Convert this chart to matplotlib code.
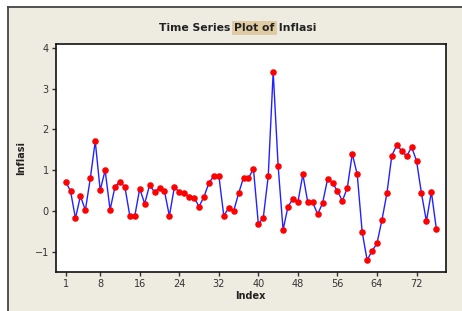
import matplotlib
matplotlib.use("Agg")
import matplotlib.pyplot as plt
from matplotlib.patches import Rectangle
from matplotlib.lines import Line2D

inflasi = [0.72, 0.49, -0.18, 0.37, 0.02, 0.80, 1.71, 0.51, 1.00, 0.03,
           0.60, 0.72, 0.59, -0.12, -0.12, 0.55, 0.18, 0.64, 0.46, 0.57,
           0.49, -0.12, 0.58, 0.47, 0.45, 0.35, 0.33, 0.11, 0.35, 0.69,
           0.86, 0.87, -0.11, 0.07, 0.00, 0.43, 0.82, 0.80, 1.04, -0.32,
           -0.16, 0.86, 3.41, 1.10, -0.46, 0.11, 0.30, 0.22, 0.90, 0.21,
           0.21, -0.08, 0.20, 0.78, 0.69, 0.49, 0.25, 0.57, 1.40, 0.90,
           -0.51, -1.20, -0.98, -0.79, -0.22, 0.43, 1.36, 1.61, 1.48, 1.34,
           1.57, 1.23, 0.43, -0.25, 0.47, -0.43]
index = list(range(1, len(inflasi) + 1))
x_ticks = [1, 8, 16, 24, 32, 40, 48, 56, 64, 72]
y_ticks = [-1, 0, 1, 2, 3, 4]

W, H = 462, 311
fig = plt.figure(figsize=(W / 100, H / 100), dpi=100)
fig.patch.set_facecolor("white")
bg = "#EEEBE1"
# beige panel with dark frame on top/left
fig.patches.append(Rectangle((8 / W, 0), 1 - 8 / W, 1 - 7 / H, transform=fig.transFigure,
                             facecolor=bg, edgecolor="none", zorder=-10))
fig.lines.append(Line2D([8 / W, 1], [1 - 7 / H, 1 - 7 / H], transform=fig.transFigure,
                        color="#444444", lw=1.3, zorder=-5))
fig.lines.append(Line2D([8 / W, 8 / W], [0, 1 - 7 / H], transform=fig.transFigure,
                        color="#444444", lw=1.3, zorder=-5))

ax = fig.add_axes([55.7 / W, 1 - 271.7 / H, (445.7 - 55.7) / W, (271.7 - 43.7) / H])
ax.set_zorder(1)
ax.set_facecolor("white")
ax.plot(index, inflasi, color="#2222FF", lw=1.0, marker="o", markersize=3.7,
        markerfacecolor="#FF0000", markeredgecolor="#FF0000", zorder=3)
ax.set_xlim(-1.0, 77.9)
ax.set_ylim(-1.486, 4.10)
ax.set_xticks(x_ticks)
ax.set_yticks(y_ticks)
ax.tick_params(direction="out", length=3, width=1, labelsize=7, colors="#333333",
               pad=2)
for s in ax.spines.values():
    s.set_linewidth(1.2)
    s.set_color("#111111")
ax.set_xlabel("Index", fontsize=7, fontweight="bold", labelpad=2, color="#222222")
ax.set_ylabel("Inflasi", fontsize=7, fontweight="bold", labelpad=6, color="#222222")

# title with highlighted middle part
fig.canvas.draw()
r = fig.canvas.get_renderer()
parts = [("Time Series ", None), ("Plot of", "#E0CCA2"), (" Inflasi", None)]
ty = 1 - 28 / H
texts = []
for s, hc in parts:
    t = fig.text(0, ty, s, fontsize=7.8, fontweight="bold", va="center", ha="left",
                 color="#222222", zorder=5)
    texts.append((t, hc))
widths = [t.get_window_extent(r).width for t, _ in texts]
total = sum(widths)
x0 = (161 + 314) / 2 - total / 2
for (t, hc), w in zip(texts, widths):
    t.set_x(x0 / W)
    if hc:
        t.set_bbox(dict(facecolor=hc, edgecolor="none", pad=1.5))
    x0 += w

fig.savefig("out.png", dpi=100, facecolor=fig.get_facecolor())
